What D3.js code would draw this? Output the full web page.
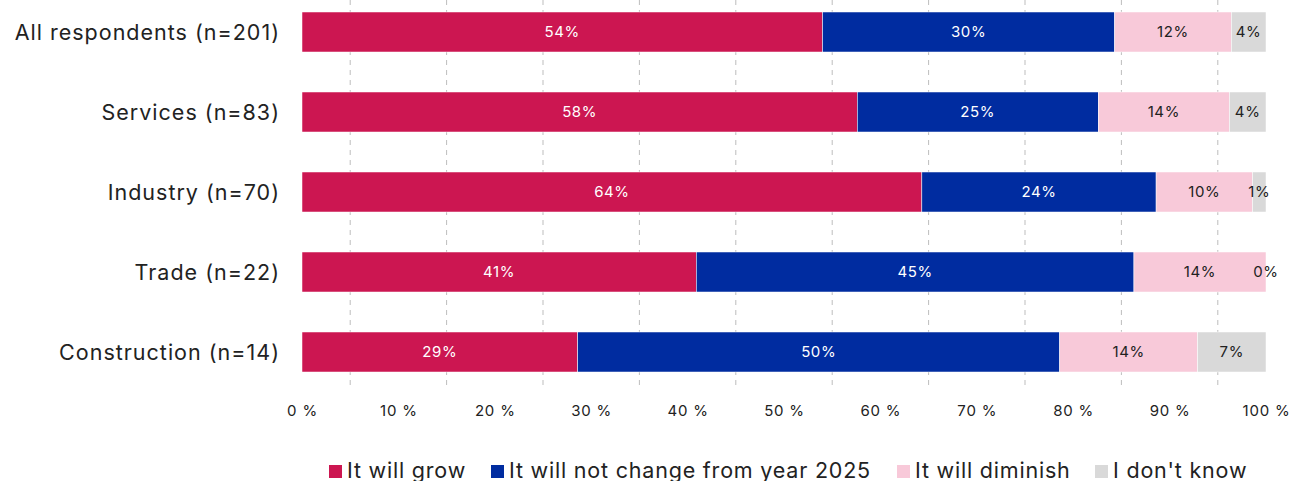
<!doctype html>
<html>
<head>
  <meta charset="utf-8">
  <script src="https://cdnjs.cloudflare.com/ajax/libs/d3/7.8.5/d3.min.js"></script>
  <style>
    body { margin: 0; background: #fff; }
    svg { font-family: Inter, "Noto Sans", sans-serif; }
  </style>
</head>
<body>
  <svg width="1290" height="481"></svg>
  <script>
var categories = ["All respondents (n=201)", "Services (n=83)", "Industry (n=70)", "Trade (n=22)", "Construction (n=14)"];
var seriesNames = ["It will grow", "It will not change from year 2025", "It will diminish", "I don't know"];
var grow = [54.0, 57.6, 64.3, 40.9, 28.6];
var noChange = [30.3, 25.0, 24.3, 45.4, 50.0];
var diminish = [12.1, 13.6, 10.0, 13.7, 14.3];
var dontKnow = [3.6, 3.8, 1.4, 0.0, 7.1];
var tickValues = [0, 10, 20, 30, 40, 50, 60, 70, 80, 90, 100];
var gridValues = [5, 15, 25, 35, 45, 55, 65, 75, 85, 95];

var colors = ["#cc1651", "#002ca0", "#f8c9d9", "#d9d9d9"];
var textColors = ["#fff", "#fff", "#222", "#222"];

var rows = categories.map((c, i) => ({ cat: c, vals: [grow[i], noChange[i], diminish[i], dontKnow[i]] }));

var svg = d3.select("svg");
var x = d3.scaleLinear().domain([0, 100]).range([302, 1266]);
var y = d3.scaleBand().domain(categories).range([-8, 392]).paddingInner(0.5).paddingOuter(0.25);

// dashed gridlines
svg.append("g").selectAll("line")
  .data(gridValues).enter().append("line")
  .attr("x1", d => x(d)).attr("x2", d => x(d))
  .attr("y1", 0).attr("y2", 390)
  .style("stroke", "#bdbdbd")
  .style("stroke-width", "1px")
  .style("stroke-dasharray", "5,5");

// stacked bars
var rowG = svg.append("g").selectAll("g")
  .data(rows).enter().append("g");

rowG.each(function(r) {
  var g = d3.select(this);
  var acc = 0;
  r.vals.forEach((v, k) => {
    var x0 = acc;
    acc += v;
    g.append("rect")
      .attr("x", x(x0))
      .attr("y", y(r.cat))
      .attr("width", x(acc) - x(x0))
      .attr("height", y.bandwidth())
      .style("fill", colors[k])
      .style("stroke", "#fff")
      .style("stroke-width", "0.5px");
    g.append("text")
      .attr("x", (x(x0) + x(acc)) / 2)
      .attr("y", y(r.cat) + y.bandwidth() / 2)
      .attr("dy", "0.36em")
      .attr("text-anchor", "middle")
      .style("font-size", "15px")
      .style("letter-spacing", "0.6px")
      .style("fill", textColors[k])
      .text(Math.round(v) + "%");
  });
});

// category labels
svg.append("g").selectAll("text")
  .data(categories).enter().append("text")
  .attr("x", 280)
  .attr("y", d => y(d) + y.bandwidth() / 2)
  .attr("dy", "0.36em")
  .attr("text-anchor", "end")
  .style("font-size", "21.5px")
  .style("letter-spacing", "1px")
  .style("fill", "#222")
  .text(d => d);

// x axis labels
var xAxis = d3.axisBottom(x).tickValues(tickValues).tickSize(0).tickFormat(d => d + " %");
var axG = svg.append("g").attr("transform", "translate(0,402)").call(xAxis);
axG.select(".domain").remove();
axG.selectAll("text")
  .style("font-size", "15px")
  .style("letter-spacing", "0.8px")
  .style("fill", "#222")
  .style("font-family", "Inter, 'Noto Sans', sans-serif");

// legend
var legendX = [329, 491, 897, 1095];
var leg = svg.append("g").selectAll("g")
  .data(seriesNames).enter().append("g")
  .attr("transform", (d, i) => "translate(" + legendX[i] + ",465)");
leg.append("rect").attr("width", 13).attr("height", 13).style("fill", (d, i) => colors[i]);
leg.append("text").attr("x", 18).attr("y", 12.5)
  .style("font-size", "21.5px").style("letter-spacing", "0.8px").style("fill", "#222")
  .text(d => d);
  </script>
</body>
</html>
